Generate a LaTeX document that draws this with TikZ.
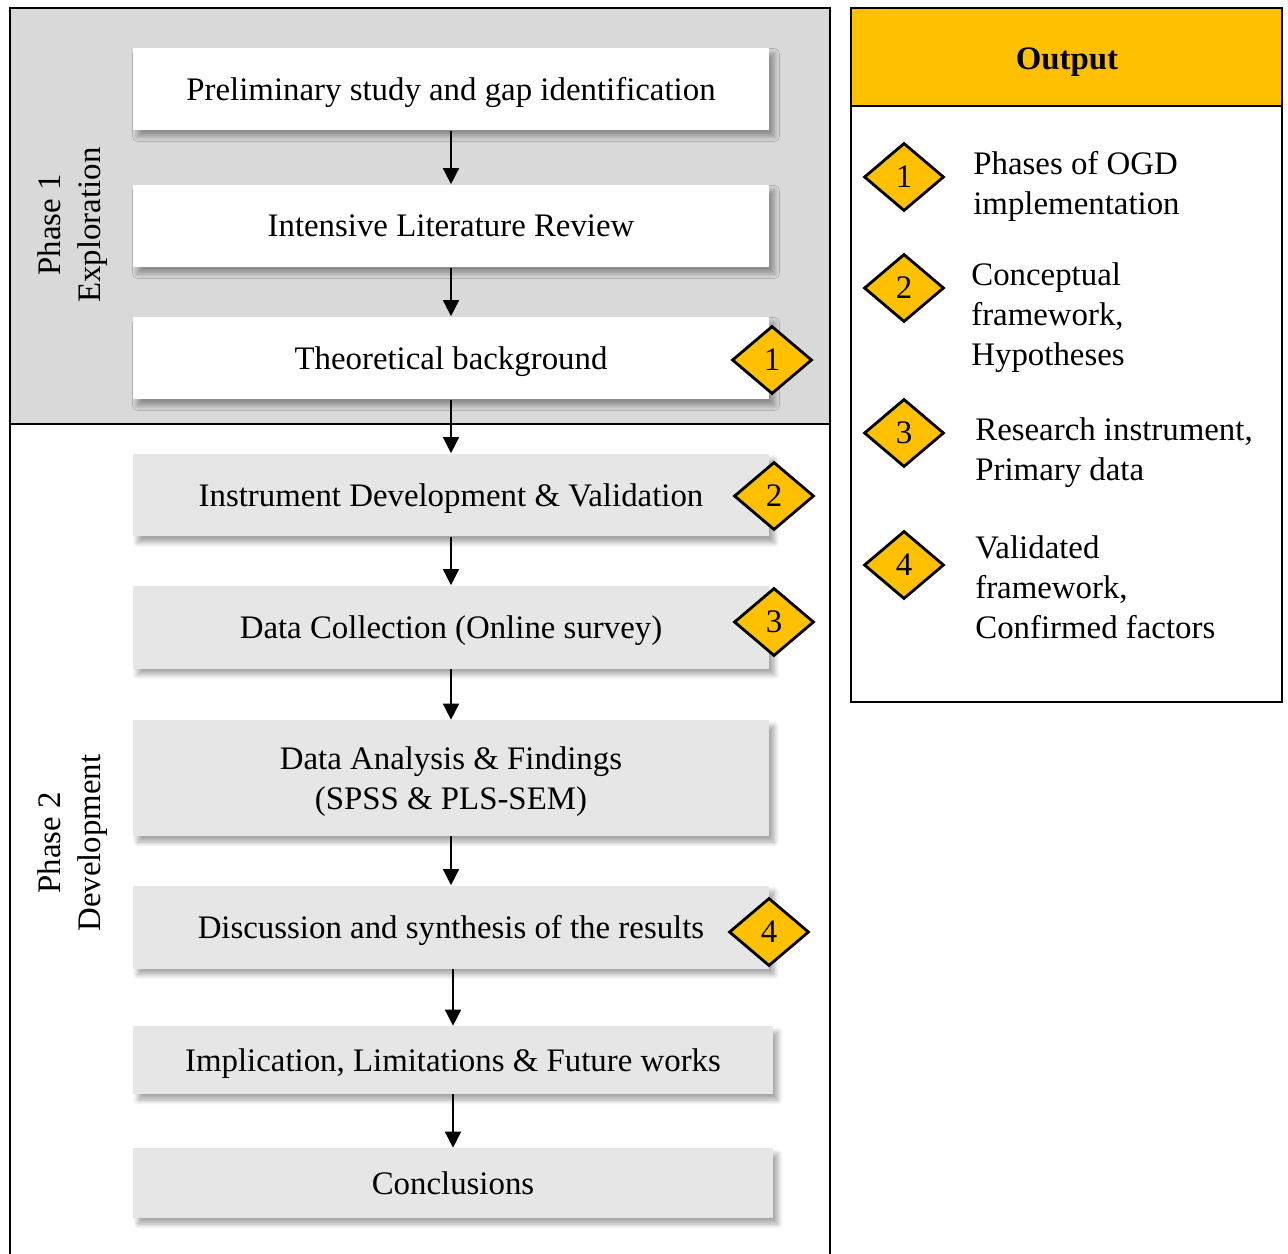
\documentclass[tikz,border=0pt]{standalone}
\usepackage{fontspec}
\setmainfont{Liberation Serif}
\usepackage{tikz}
\usetikzlibrary{positioning}
\usetikzlibrary{shapes.geometric}
\usetikzlibrary{arrows.meta}
\usetikzlibrary{shadows.blur}

\definecolor{phasegray}{HTML}{D9D9D9}
\definecolor{boxgray}{HTML}{E6E6E6}
\definecolor{gold}{HTML}{FFC000}

\tikzset{
  stepbox/.style={rectangle, minimum width=12.74cm, minimum height=1.66cm, inner sep=0pt,
    font=\fontsize{18.7}{22.5}\selectfont, align=center, text depth=0pt,
    blur shadow={shadow xshift=0.1cm, shadow yshift=-0.12cm, shadow blur radius=0.1cm,
      shadow blur steps=8, shadow opacity=35}},
  whitebox/.style={stepbox, fill=white},
  graybox/.style={stepbox, fill=boxgray},
  marker/.style={diamond, draw=black, line width=1.6pt, fill=gold, inner sep=0pt,
    minimum width=1.6cm, minimum height=1.36cm, font=\fontsize{18.7}{22}\selectfont},
  outtext/.style={anchor=west, align=left, font=\fontsize{18.7}{22.8}\selectfont, inner sep=0pt},
  flow/.style={draw=black, line width=0.9pt, -{Triangle[width=0.32cm,length=0.32cm]}},
  phaselabel/.style={rotate=90, align=center, font=\fontsize{18.7}{22.8}\selectfont}
}

\begin{document}
\begin{tikzpicture}[x=0.02cm, y=-0.02cm]
  \useasboundingbox (0,0) rectangle (1288,1254);

  % Phase frames
  \fill[phasegray] (10,8) rectangle (830,424);
  \draw[line width=1.1pt] (10,1254) -- (10,8) -- (830,8) -- (830,1254);
  \draw[line width=1.1pt] (10,424) -- (830,424);

  \node[phaselabel] (ph1) at (73,225) {Phase 1\\Exploration};
  \node[phaselabel] (ph2) at (73,843) {Phase 2\\Development};

  % Steps
  \node[whitebox] (prelim) at (451,89) {Preliminary study and gap identification};
  \node[whitebox] (review) at (451,226) {Intensive Literature Review};
  \node[whitebox] (theory) at (451,358) {Theoretical background};
  \node[graybox] (instr) at (451,495) {Instrument Development \& Validation};
  \node[graybox] (collect) at (451,627) {Data Collection (Online survey)};
  \node[graybox, minimum height=2.32cm] (analysis) at (451,778) {Data Analysis \& Findings\\(SPSS \& PLS-SEM)};
  \node[graybox] (discuss) at (451,927) {Discussion and synthesis of the results};
  \node[graybox, minimum width=12.8cm, minimum height=1.36cm] (implic) at (453,1060) {Implication, Limitations \& Future works};
  \node[graybox, minimum width=12.8cm, minimum height=1.4cm] (concl) at (453,1183) {Conclusions};

  % Arrows
  \draw[flow] (prelim) -- (review);
  \draw[flow] (review) -- (theory);
  \draw[flow] (theory) -- (instr);
  \draw[flow] (instr) -- (collect);
  \draw[flow] (collect) -- (analysis);
  \draw[flow] (analysis) -- (discuss);
  \draw[flow] (discuss.south -| implic) -- (implic);
  \draw[flow] (implic) -- (concl);

  % Markers on the steps
  \node[marker] (m1) at (772,360) {1};
  \node[marker] (m2) at (774,496) {2};
  \node[marker] (m3) at (774,622) {3};
  \node[marker] (m4) at (769,932) {4};

  % Output panel
  \fill[gold] (851,8) rectangle (1282,106);
  \draw[line width=1.6pt] (851,8) rectangle (1282,702);
  \draw[line width=1.6pt] (851,106) -- (1282,106);
  \node[font=\fontsize{18.7}{22}\selectfont\bfseries] (outhead) at (1067,62) {Output};

  \node[marker] (o1) at (904,177) {1};
  \node[marker] (o2) at (904,288) {2};
  \node[marker] (o3) at (904,433) {3};
  \node[marker] (o4) at (904,565) {4};

  \node[outtext] (t1) at (973,186) {Phases of OGD\\implementation};
  \node[outtext] (t2) at (971,318) {Conceptual\\framework,\\Hypotheses};
  \node[outtext] (t3) at (975,453) {Research instrument,\\Primary data};
  \node[outtext] (t4) at (975,587) {Validated\\framework,\\Confirmed factors};
\end{tikzpicture}
\end{document}
